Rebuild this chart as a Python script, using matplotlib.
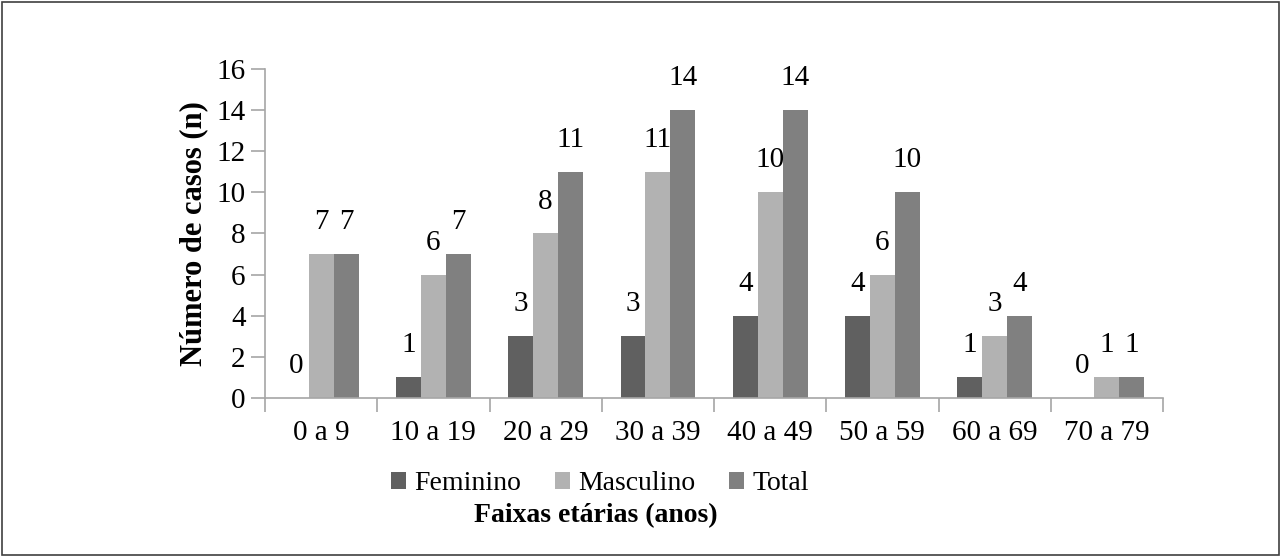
import numpy as np
import matplotlib
matplotlib.use("Agg")
import matplotlib.pyplot as plt
from matplotlib.patches import Rectangle

categories = ["0 a 9", "10 a 19", "20 a 29", "30 a 39", "40 a 49", "50 a 59", "60 a 69", "70 a 79"]
feminino = [0, 1, 3, 3, 4, 4, 1, 0]
masculino = [7, 6, 8, 11, 10, 6, 3, 1]
total = [7, 7, 11, 14, 14, 10, 4, 1]

plt.rcParams["font.family"] = ["Liberation Serif", "DejaVu Serif"]

fig = plt.figure(figsize=(12.81, 5.57), dpi=100)
ax = fig.add_axes([0.2069, 0.2855, 0.7010, 0.5906])

x = np.arange(len(categories))
w = 0.222
series = [
    ("Feminino", feminino, "#606060"),
    ("Masculino", masculino, "#b2b2b2"),
    ("Total", total, "#808080"),
]
for i, (name, vals, col) in enumerate(series):
    pos = x + (i - 1) * w
    ax.bar(pos, vals, width=w, color=col, label=name, zorder=2)
    for px, v in zip(pos, vals):
        ax.annotate(str(v), (px, v), xytext=(0, 23), textcoords="offset points",
                    ha="center", va="center", fontsize=21, color="black")

ax.set_xlim(-0.5, len(categories) - 0.5)
ax.set_ylim(0, 16)
ax.set_yticks(np.arange(0, 17, 2))
ax.set_xticks(np.arange(-0.5, len(categories), 1.0))
ax.set_xticklabels([])
ax.set_xticks(x, minor=True)
ax.set_xticklabels(categories, minor=True)
ax.tick_params(axis="x", which="major", length=10, width=1.2, color="#a6a6a6", direction="out")
ax.tick_params(axis="x", which="minor", length=0, pad=16, labelsize=21)
ax.tick_params(axis="y", length=10, width=1.2, color="#a6a6a6", labelsize=21, pad=4)

for s in ["top", "right"]:
    ax.spines[s].set_visible(False)
for s in ["left", "bottom"]:
    ax.spines[s].set_color("#a6a6a6")
    ax.spines[s].set_linewidth(1.2)

ax.set_ylabel("Número de casos (n)", fontsize=22, fontweight="bold", labelpad=6)

handles, labels = ax.get_legend_handles_labels()
fig.legend(handles, labels, loc="center", bbox_to_anchor=(600 / 1281, 1 - 484 / 557),
           ncol=3, frameon=False, fontsize=20, handlelength=0.55, handleheight=0.55,
           handletextpad=0.3, columnspacing=1.2)

fig.text(596 / 1281, 1 - 516 / 557, "Faixas etárias (anos)", ha="center", va="center",
         fontsize=20, fontweight="bold")

fig.patches.append(Rectangle((0.0015, 0.003), 0.997, 0.994, transform=fig.transFigure,
                             fill=False, edgecolor="#404040", linewidth=1.2))

fig.savefig("out.png", dpi=100, facecolor="white")
